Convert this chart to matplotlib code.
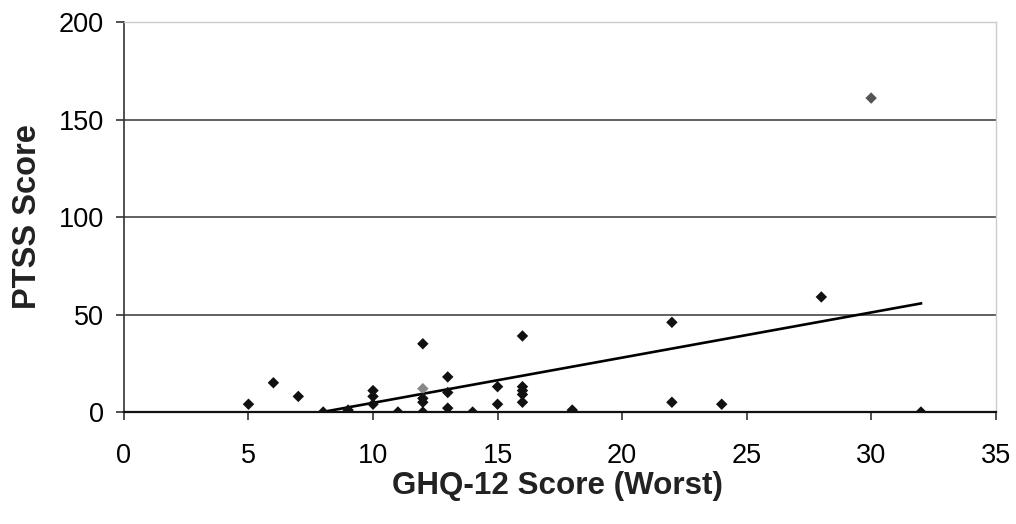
import numpy as np
import matplotlib
matplotlib.use("Agg")
import matplotlib.pyplot as plt

plt.rcParams['font.family'] = ['Liberation Sans', 'DejaVu Sans']

ghq = [5, 6, 7, 8, 9, 10, 10, 10, 11, 12, 12, 12, 12, 12, 13, 13, 13, 14,
       15, 15, 16, 16, 16, 16, 16, 18, 22, 22, 24, 28, 30, 32]
ptss = [4, 15, 8, 0, 1, 11, 8, 4, 0, 35, 12, 7, 5, 0, 18, 10, 2, 0,
        13, 4, 39, 13, 11, 9, 5, 1, 46, 5, 4, 59, 161, 0]
point_colors = ['#111111'] * len(ghq)
point_colors[10] = '#888888'
point_colors[30] = '#555555'

xticks = [0, 5, 10, 15, 20, 25, 30, 35]
yticks = [0, 50, 100, 150, 200]

fig = plt.figure(figsize=(10.16, 5.24), dpi=100)
ax = fig.add_axes([0.122, 0.2137, 0.858, 0.7443])

for y in yticks[1:-1]:
    ax.axhline(y, color='#555555', lw=1.3, zorder=1)

ax.scatter(ghq, ptss, marker='D', s=34, c=point_colors, zorder=3, linewidths=0)

slope, intercept = np.polyfit(ghq, ptss, 1)
xs = np.array([min(ghq), max(ghq)])
ax.plot(xs, slope * xs + intercept, color='black', lw=1.9, zorder=2)

ax.set_xlim(0, 35)
ax.set_ylim(0, 200)
ax.set_xticks(xticks)
ax.set_yticks(yticks)
ax.tick_params(axis='both', labelsize=19.5, length=6, width=1.2, color='#333333')
ax.tick_params(axis='x', pad=16)
ax.tick_params(axis='y', pad=8.5)
for s in ['top', 'right']:
    ax.spines[s].set_color('#cccccc')
    ax.spines[s].set_linewidth(1.0)
ax.spines['left'].set_color('#333333')
ax.spines['bottom'].set_color('#111111')
ax.spines['bottom'].set_linewidth(1.6)
ax.spines['left'].set_linewidth(1.2)

ax.set_xlabel('GHQ-12 Score (Worst)', fontsize=22.6, fontweight='bold', color='#222222')
ax.set_ylabel('PTSS Score', fontsize=23.5, fontweight='bold', color='#222222')
ax.xaxis.set_label_coords(0.497, -0.19)
ax.xaxis.label.set_va('center')
ax.yaxis.set_label_coords(-0.111, 0.5)
ax.yaxis.label.set_va('center')
ax.yaxis.label.set_ha('center')

fig.savefig('out.png', dpi=100)
